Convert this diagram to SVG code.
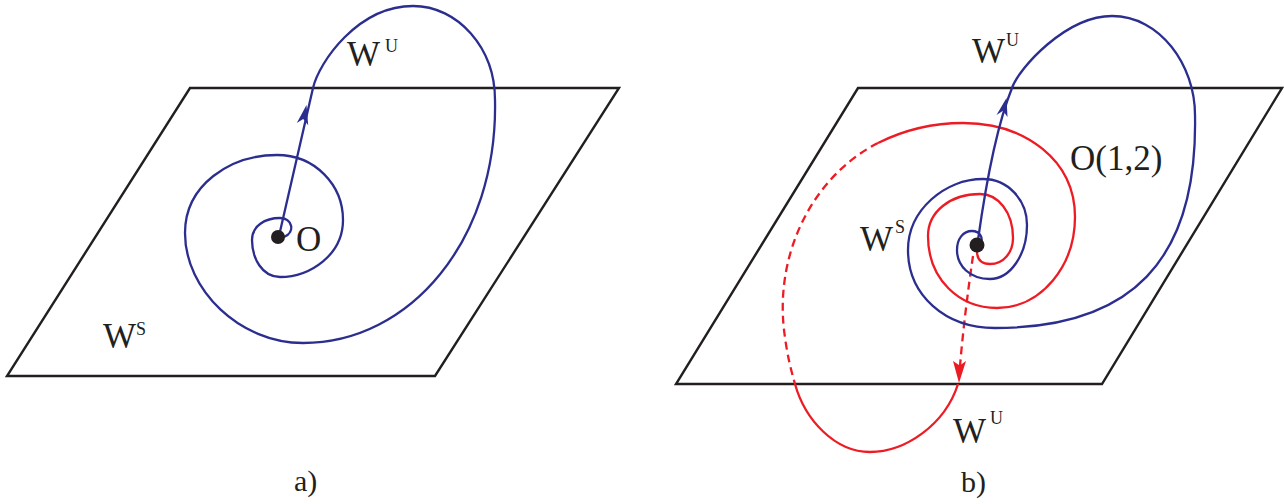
<svg xmlns="http://www.w3.org/2000/svg" width="1284" height="504" viewBox="0 0 1284 504">
<style>
.plane{fill:none;stroke:#231f20;stroke-width:2.4;stroke-linejoin:miter}
.blue{fill:none;stroke:#2b2e8f;stroke-width:2.3}
.red{fill:none;stroke:#ed1c24;stroke-width:2.3}
.dash{stroke-dasharray:8 5}
.bluefill{fill:#2b2e8f}
.redfill{fill:#ed1c24}
.dot{fill:#231f20}
.lbl{font-family:"Liberation Serif","Times New Roman",serif;fill:#231f20;font-size:35px}
.sup{font-family:"Liberation Serif","Times New Roman",serif;fill:#231f20;font-size:18px}
.cap{font-family:"Liberation Serif","DejaVu Serif",serif;fill:#231f20;font-size:30px}
</style>
<rect width="1284" height="504" fill="#ffffff"/>
<g id="panel-a">
  <g id="plane-a"><polygon class="plane" points="190,88 619,88 435,376 7,376"/></g>
  <g id="connectors-a">
    <path class="blue" d="M279,236 L313,88 C319,62 358,6 413,6 C458,6 495,48 495,100 C498,240 410,343 303,343 C240,343 185,290 185,233 C185,185 230,155 277,155 C315,155 343,185 343,220 C343,255 310,277 280,277 C262,277 252,258 252,240 C252,226 265,218 280,218 C292,218 296,232 284,237"/>
    <polygon class="bluefill" points="306.5,105 296.8,123 303.2,119 308.2,125.3"/>
  </g>
  <g id="node-O-a"><circle class="dot" cx="278" cy="237" r="7"/><text class="lbl" x="296" y="251">O</text></g>
  <g id="label-WU-a"><text class="lbl" x="347" y="66">W</text><text class="sup" x="385" y="52">U</text></g>
  <g id="label-WS-a"><text class="lbl" x="103" y="348">W</text><text class="sup" x="136" y="335">S</text></g>
  <g id="caption-a"><text class="cap" x="294" y="491">a)</text></g>
</g>
<g id="panel-b">
  <g id="plane-b"><polygon class="plane" points="858,88 1282,88 1102,384 676,384"/></g>
  <g id="connectors-b">
    <path class="red" d="M977,251 C977,260 982,264 990,264 C1004,264 1013,252 1013,238 C1013,212 998,194 980,194 C950,194 928,212 928,236 C928,280 960,308 997,308 C1042,308 1075,265 1075,217 C1075,160 1025,123 963,123 C930,123 900,132 878,143"/>
    <path class="red dash" d="M878,143 C815,175 775,250 784,330 C787,355 791,370 795,384"/>
    <path class="red" d="M795,384 C805,420 835,452 870,452 C905,452 945,425 958,384"/>
    <path class="red dash" d="M973,256 C968,290 963,330 960,366"/>
    <polygon class="redfill" points="959,383 953,361 959.7,365.5 966,361"/>
    <path class="blue" d="M978,240 C985,190 995,130 1012,88 C1019,68 1066,16 1112,16 C1160,16 1195,65 1195,115 C1198,262 1130,328 995,328 C945,328 908,295 908,250 C908,210 945,179 983,179 C1008,179 1027,200 1027,225 C1027,255 1010,279 990,279 C970,279 957,266 957,250 C957,239 963,231 972,231 C980,231 984,238 980,244"/>
    <polygon class="bluefill" points="1006.5,98 996.5,115 1003,110.8 1007.5,117"/>
  </g>
  <g id="node-O-b"><circle class="dot" cx="977" cy="245" r="7.5"/></g>
  <g id="label-O12"><text class="lbl" x="1070" y="170">O(1,2)</text></g>
  <g id="label-WU-b-top"><text class="lbl" x="972" y="63">W</text><text class="sup" x="1006" y="46">U</text></g>
  <g id="label-WS-b"><text class="lbl" x="860" y="251">W</text><text class="sup" x="895" y="233">S</text></g>
  <g id="label-WU-b-bottom"><text class="lbl" x="953" y="443">W</text><text class="sup" x="990" y="424">U</text></g>
  <g id="caption-b"><text class="cap" x="961" y="492">b)</text></g>
</g>
</svg>
